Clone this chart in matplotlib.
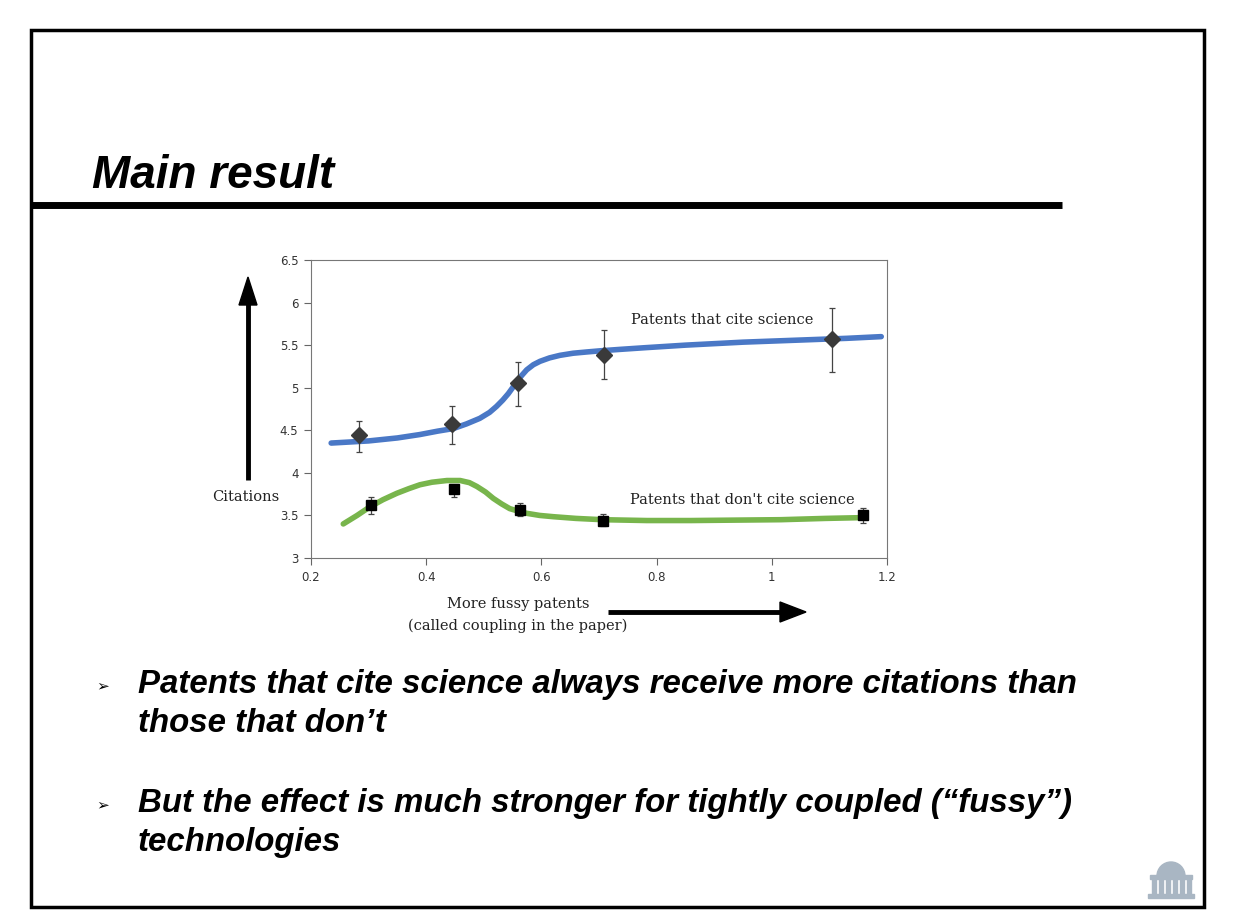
import numpy as np
import matplotlib.pyplot as plt
from matplotlib.patches import Rectangle, Wedge, Polygon

# measured points with error bars
sci_x = [0.283, 0.445, 0.560, 0.708, 1.105]
sci_y = [4.44, 4.57, 5.05, 5.38, 5.57]
sci_lo = [4.25, 4.34, 4.79, 5.10, 5.18]
sci_hi = [4.61, 4.79, 5.30, 5.68, 5.94]

nosci_x = [0.305, 0.449, 0.563, 0.707, 1.158]
nosci_y = [3.625, 3.81, 3.56, 3.44, 3.50]
nosci_lo = [3.52, 3.72, 3.49, 3.38, 3.41]
nosci_hi = [3.72, 3.85, 3.645, 3.52, 3.586]

# fitted curves
sci_fit_x = [0.235, 0.30, 0.35, 0.389, 0.42, 0.447, 0.47, 0.493, 0.51, 0.522, 0.533,
             0.5425, 0.55, 0.557, 0.566, 0.5745, 0.586, 0.5976, 0.614, 0.632, 0.655,
             0.679, 0.705, 0.736, 0.78, 0.85, 0.95, 1.05, 1.13, 1.19]
sci_fit_y = [4.35, 4.375, 4.41, 4.45, 4.49, 4.52, 4.575, 4.64, 4.71, 4.78, 4.855,
             4.93, 5.00, 5.07, 5.145, 5.21, 5.27, 5.31, 5.35, 5.38, 5.405,
             5.42, 5.435, 5.45, 5.47, 5.50, 5.535, 5.56, 5.58, 5.60]
nosci_fit_x = [0.256, 0.28, 0.302, 0.325, 0.349, 0.37, 0.389, 0.41, 0.436, 0.459,
               0.475, 0.488, 0.503, 0.5165, 0.531, 0.545, 0.56, 0.5745, 0.597, 0.621,
               0.66, 0.705, 0.783, 0.86, 0.938, 1.016, 1.093, 1.163]
nosci_fit_y = [3.40, 3.50, 3.60, 3.685, 3.76, 3.815, 3.86, 3.89, 3.91, 3.91,
               3.885, 3.84, 3.775, 3.70, 3.635, 3.58, 3.55, 3.525, 3.50, 3.485,
               3.465, 3.45, 3.44, 3.44, 3.445, 3.45, 3.465, 3.475]

xticks = [0.2, 0.4, 0.6, 0.8, 1.0, 1.2]
xlabels = ['0.2', '0.4', '0.6', '0.8', '1', '1.2']
yticks = [3, 3.5, 4, 4.5, 5, 5.5, 6, 6.5]
ylabels = ['3', '3.5', '4', '4.5', '5', '5.5', '6', '6.5']

W, H = 1236, 922
fig = plt.figure(figsize=(W / 100, H / 100), dpi=100)

# slide layer in pixel coordinates
bg = fig.add_axes([0, 0, 1, 1])
bg.set_xlim(0, W)
bg.set_ylim(H, 0)
bg.axis('off')

bg.add_patch(Rectangle((31, 30), 1173, 877, fill=False, edgecolor='black', linewidth=2.5))
bg.plot([31, 1062], [205, 205], color='black', linewidth=5, solid_capstyle='butt')
bg.text(92, 188, 'Main result', fontsize=33, fontweight='bold', fontstyle='italic',
        family='Liberation Sans', ha='left', va='baseline')

sans = 'Liberation Sans'
bullets = [
    (693, ['Patents that cite science always receive more citations than', 'those that don\u2019t']),
    (812, ['But the effect is much stronger for tightly coupled (\u201cfussy\u201d)', 'technologies']),
]
for yb, lines in bullets:
    bg.text(96, yb - 3, '\u27a2', fontsize=11, family='DejaVu Sans', ha='left', va='baseline')
    for k, t in enumerate(lines):
        bg.text(138, yb + k * 39, t, fontsize=23.8, fontweight='bold', fontstyle='italic',
                family=sans, ha='left', va='baseline')

# arrows
bg.plot([248, 248], [300, 480], color='black', linewidth=3.5, solid_capstyle='butt')
bg.add_patch(Polygon([[239, 305], [257, 305], [248, 277]], closed=True, color='black'))
bg.plot([608, 785], [612, 612], color='black', linewidth=3.5, solid_capstyle='butt')
bg.add_patch(Polygon([[780, 602], [780, 622], [806, 612]], closed=True, color='black'))

serif = 'DejaVu Serif'
bg.text(246, 497, 'Citations', fontsize=10.5, family=serif, ha='center', va='center', color='#222222')
bg.text(518, 604, 'More fussy patents', fontsize=10.5, family=serif, ha='center', va='center', color='#222222')
bg.text(518, 626, '(called coupling in the paper)', fontsize=10.5, family=serif, ha='center', va='center', color='#222222')

# MIT dome icon
ic = '#a9b6c3'
bg.add_patch(Wedge((1171, 876), 14, 180, 360, color=ic))
bg.add_patch(Rectangle((1150, 875), 42, 4, color=ic))
bg.add_patch(Rectangle((1148, 894), 46, 4, color=ic))
for cx in [1153, 1160, 1167, 1174, 1181, 1188]:
    bg.add_patch(Rectangle((cx - 1, 879), 4, 15, color=ic))

# chart
ax = fig.add_axes([311 / W, 1 - 558 / H, 576 / W, 298 / H])
ax.plot(sci_fit_x, sci_fit_y, color='#4a78c6', linewidth=4, solid_capstyle='round',
        solid_joinstyle='round', zorder=2)
ax.plot(nosci_fit_x, nosci_fit_y, color='#78b54c', linewidth=4, solid_capstyle='round',
        solid_joinstyle='round', zorder=2)

sci_err = [np.array(sci_y) - np.array(sci_lo), np.array(sci_hi) - np.array(sci_y)]
nosci_err = [np.array(nosci_y) - np.array(nosci_lo), np.array(nosci_hi) - np.array(nosci_y)]
ax.errorbar(sci_x, sci_y, yerr=sci_err, fmt='D', color='#3a3a3a', markersize=8,
            ecolor='#444444', elinewidth=0.9, capsize=2.5, capthick=0.9, zorder=3)
ax.errorbar(nosci_x, nosci_y, yerr=nosci_err, fmt='s', color='black', markersize=7,
            ecolor='#444444', elinewidth=0.9, capsize=2.5, capthick=0.9, zorder=3)

ax.text(0.756, 5.80, 'Patents that cite science', fontsize=10.5, family=serif, color='#222222', va='center')
ax.text(0.753, 3.68, "Patents that don't cite science", fontsize=10.5, family=serif, color='#222222', va='center')

ax.set_xlim(0.2, 1.2)
ax.set_ylim(3, 6.5)
ax.set_xticks(xticks)
ax.set_xticklabels(xlabels)
ax.set_yticks(yticks)
ax.set_yticklabels(ylabels)
ax.tick_params(direction='out', length=5, width=0.8, color='#666666', labelsize=8.5,
               labelcolor='#333333', pad=4)
for s in ax.spines.values():
    s.set_color('#777777')
    s.set_linewidth(0.8)

fig.savefig('out.png', dpi=100)
